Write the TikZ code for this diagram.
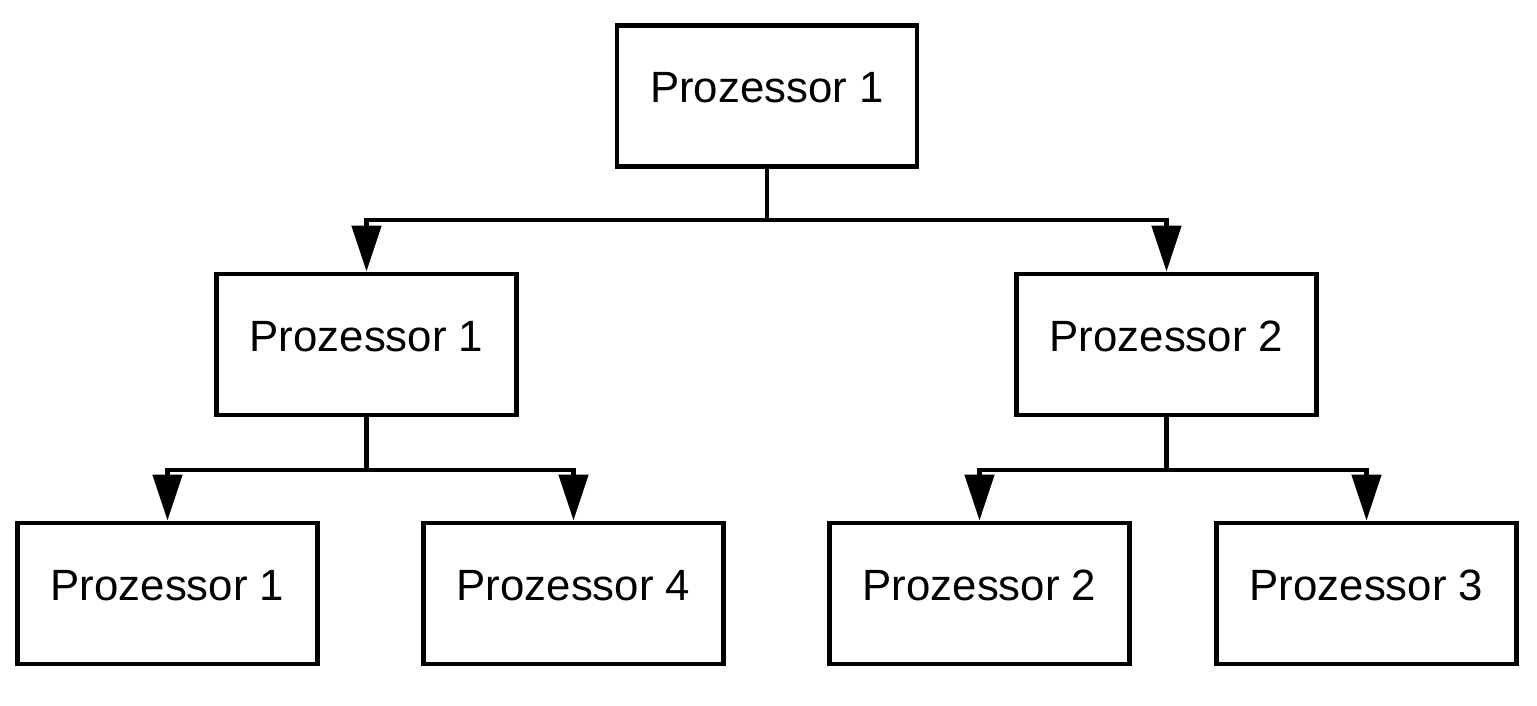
\documentclass[tikz,border=0pt]{standalone}
\usepackage{fontspec}
\setmainfont{Liberation Sans}
\usetikzlibrary{arrows.meta}
\begin{document}
\begin{tikzpicture}[x=1pt,y=-1pt,
  procbox/.style={draw=black, line width=4.8pt, fill=white, minimum width=300pt, minimum height=141pt,
    inner sep=0pt, text height=40pt, text depth=27pt, font=\fontsize{43.8}{50}\selectfont},
  link/.style={draw=black, line width=4.8pt},
  conn/.style={link, -{Triangle[length=46pt,width=29pt]}}
]
\useasboundingbox (0,0) rectangle (1537,705);
\node[procbox] (top) at (767,95.8) {Prozessor 1};
\node[procbox] (ml) at (366.5,344.5) {Prozessor 1};
\node[procbox] (mr) at (1166.5,344.5) {Prozessor 2};
\node[procbox] (b1) at (167.5,593.5) {Prozessor 1};
\node[procbox] (b2) at (573.5,593.5) {Prozessor 4};
\node[procbox] (b3) at (979.5,593.5) {Prozessor 2};
\node[procbox] (b4) at (1366.5,593.5) {Prozessor 3};
\coordinate (j0) at (767,220);
\coordinate (jl) at (366.5,470);
\coordinate (jr) at (1166.5,470);
\draw[link] (top.south) -- (j0);
\draw[conn] (j0) -| (ml.north);
\draw[conn] (j0) -| (mr.north);
\draw[link] (ml.south) -- (jl);
\draw[conn] (jl) -| (b1.north);
\draw[conn] (jl) -| (b2.north);
\draw[link] (mr.south) -- (jr);
\draw[conn] (jr) -| (b3.north);
\draw[conn] (jr) -| (b4.north);
\end{tikzpicture}
\end{document}
